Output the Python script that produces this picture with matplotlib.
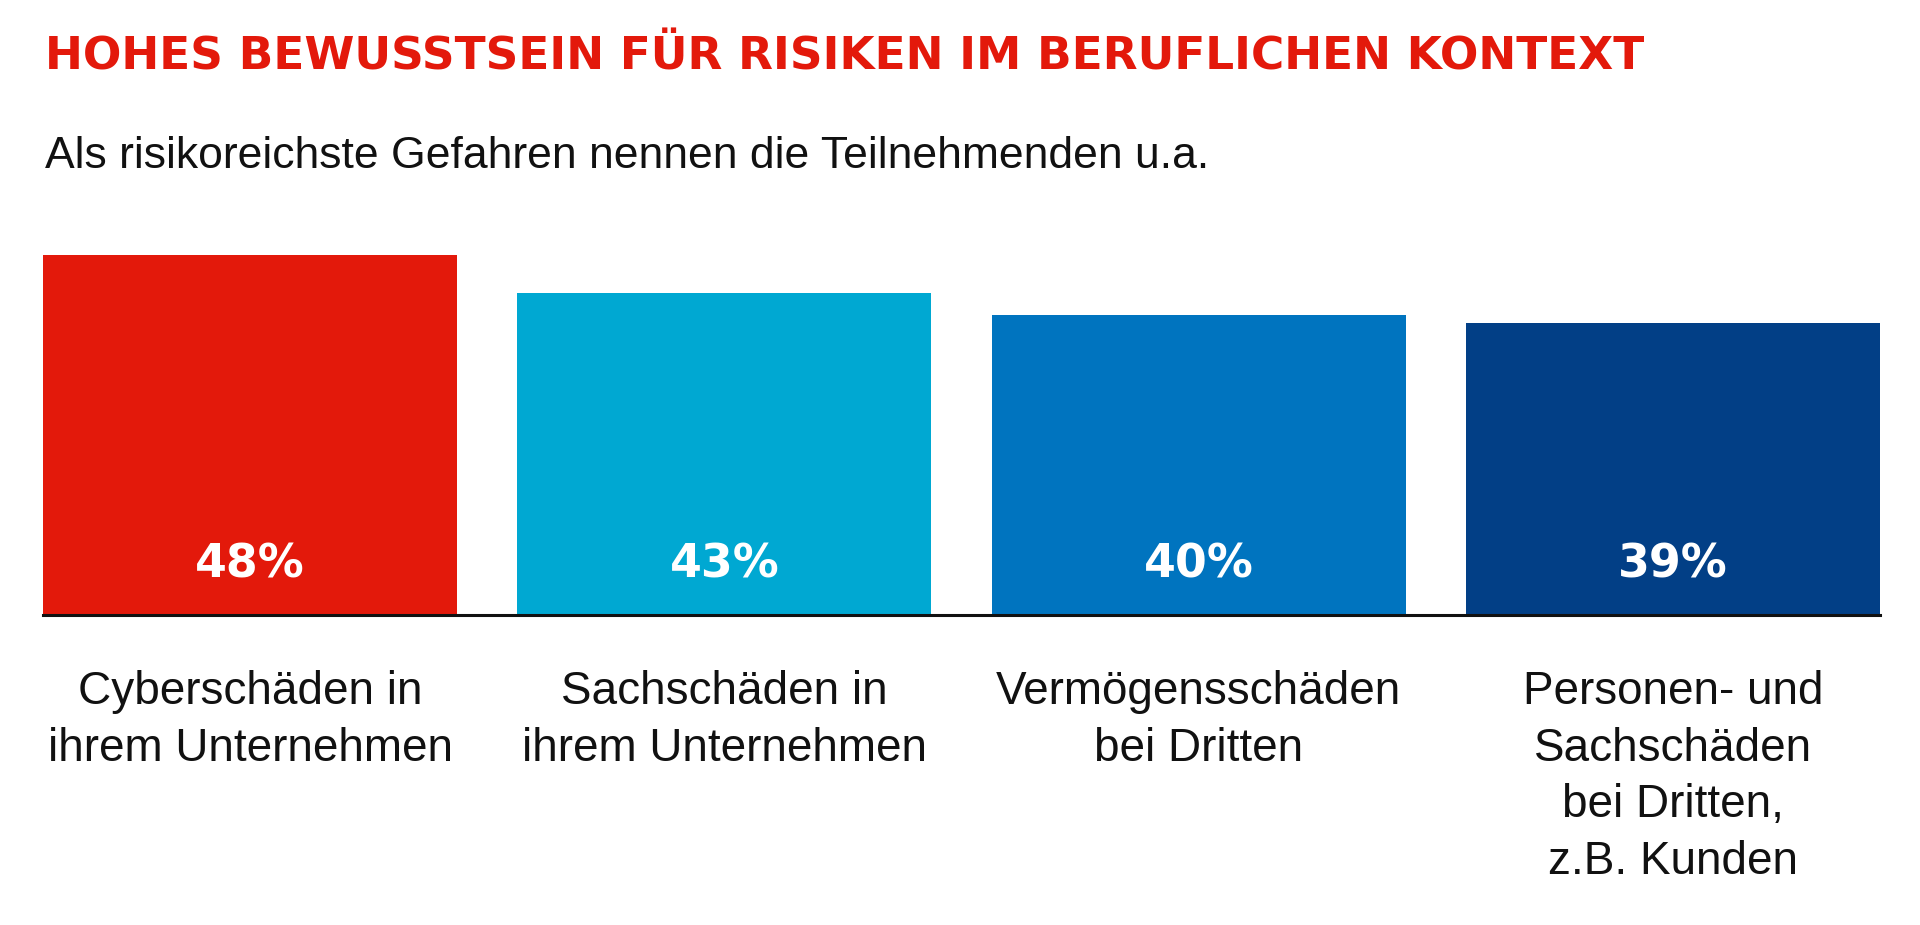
import matplotlib
matplotlib.use('Agg')
import matplotlib.pyplot as plt
from matplotlib.transforms import blended_transform_factory

# Data
categories = ['Cyberschäden in\nihrem Unternehmen',
              'Sachschäden in\nihrem Unternehmen',
              'Vermögensschäden\nbei Dritten',
              'Personen- und\nSachschäden\nbei Dritten,\nz.B. Kunden']
values = [48, 43, 40, 39]
bar_colors = ['#E3190B', '#00A8D2', '#0074BF', '#023F86']

title = 'HOHES BEWUSSTSEIN FÜR RISIKEN IM BERUFLICHEN KONTEXT'
subtitle = 'Als risikoreichste Gefahren nennen die Teilnehmenden u.a.'

W, H = 1920, 925
fig = plt.figure(figsize=(W / 100, H / 100), dpi=100)

# axes placed in pixel terms: left 43, right 1880, baseline at 615, 48% top at 255
ax_left, ax_right = 43, 1880
ax_bottom = 615
px_per_unit = (615 - 255) / 48
ax_top = ax_bottom - px_per_unit * 50
ax = fig.add_axes([ax_left / W, 1 - ax_bottom / H,
                   (ax_right - ax_left) / W, (ax_bottom - ax_top) / H])

width = 0.873
x = list(range(len(values)))
ax.bar(x, values, width=width, color=bar_colors, zorder=2)
ax.set_xlim(-width / 2, len(values) - 1 + width / 2)
ax.set_ylim(0, 50)
ax.axhline(0, color='#111111', lw=2.2, zorder=3, clip_on=False)
ax.axis('off')

trans = blended_transform_factory(ax.transData, fig.transFigure)

# value labels inside the bars
for xi, v in zip(x, values):
    ax.text(xi, 1 - 577 / H, f'{v}%', ha='center', va='baseline',
            fontsize=33, fontweight='bold', family='DejaVu Sans',
            color='white', zorder=4, transform=trans)

# category labels under the baseline
for xi, lab in zip(x, categories):
    ax.text(xi, 1 - 670 / H, lab, ha='center', va='top',
            fontsize=33, family='Liberation Sans', color='#111111',
            linespacing=1.37, transform=trans)

fig.text(45 / W, 1 - 69 / H, title, ha='left', va='baseline',
         fontsize=32.7, fontweight='bold', family='DejaVu Sans',
         color='#E3190B')
fig.text(45 / W, 1 - 168 / H, subtitle, ha='left', va='baseline',
         fontsize=32, family='Liberation Sans', color='#111111')

fig.savefig('out.png', dpi=100, facecolor='white')
